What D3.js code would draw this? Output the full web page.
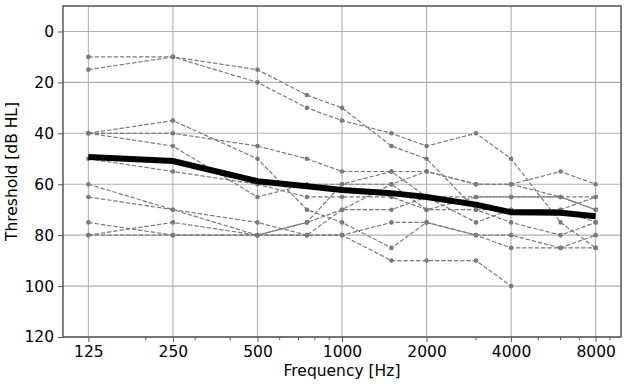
<!DOCTYPE html>
<html>
<head>
<meta charset="utf-8">
<script src="https://cdn.jsdelivr.net/npm/d3@7"></script>
<style>
  html, body { margin: 0; padding: 0; background: #fff; }
  svg { display: block; font-family: "DejaVu Sans", sans-serif; }
</style>
</head>
<body>
<div id="chart"></div>
<script>
// audiogram frequencies (Hz)
const freqs = [125, 250, 500, 750, 1000, 1500, 2000, 3000, 4000, 6000, 8000];
const xTicks = [125, 250, 500, 1000, 2000, 4000, 8000];
const yTicks = [0, 20, 40, 60, 80, 100, 120];

// individual thresholds (dB HL), null = no response
const subj1 = [15, 10, 15, 25, 30, 45, 50, 70, 70, 70, 75];
const subj2 = [10, 10, 20, 30, 35, 40, 45, 40, 50, 75, 85];
const subj3 = [40, 35, 50, 70, 75, 85, 75, 80, 85, 85, 80];
const subj4 = [40, 40, 45, 50, 55, 55, 55, 60, 60, 55, 60];
const subj5 = [40, 45, 65, 60, 60, 60, 70, 65, 65, 65, 70];
const subj6 = [50, 55, 60, 65, 65, 65, 70, 70, 75, 80, 75];
const subj7 = [60, 70, 75, 80, 80, 90, 90, 90, 100, null, null];
const subj8 = [65, 70, 80, 75, 70, 60, 55, 60, 60, 65, 65];
const subj9 = [75, 80, 80, 80, 70, 70, 65, 75, 70, 70, 65];
const subj10 = [80, 75, 80, 75, 60, 55, 65, 65, 65, 65, 70];
const subj11 = [80, 80, 80, 80, 80, 75, 75, 80, 80, 85, 85];
const subjects = [subj1, subj2, subj3, subj4, subj5, subj6, subj7, subj8, subj9, subj10, subj11];

// mean threshold
const meanThr = [49.3, 50.9, 58.8, 60.8, 62.3, 63.5, 65, 68, 71, 71.2, 72.6];

const W = 624, H = 384;
const margin = { top: 6, right: 3, bottom: 47, left: 63 };

const svg = d3.select('#chart').append('svg')
  .attr('width', W)
  .attr('height', H);

const x = d3.scaleLog()
  .base(2)
  .domain([125 / Math.pow(2, 0.3), 8000 * Math.pow(2, 0.3)])
  .range([margin.left, W - margin.right]);

const y = d3.scaleLinear()
  .domain([-10, 120])
  .range([margin.top, H - margin.bottom]);

const plotL = margin.left, plotR = W - margin.right;
const plotT = margin.top, plotB = H - margin.bottom;

// grid
const grid = svg.append('g').attr('stroke', '#b0b0b0').attr('stroke-width', 1.1);
xTicks.forEach(t => {
  grid.append('line')
    .attr('x1', x(t)).attr('x2', x(t))
    .attr('y1', plotT).attr('y2', plotB);
});
yTicks.forEach(t => {
  grid.append('line')
    .attr('x1', plotL).attr('x2', plotR)
    .attr('y1', y(t)).attr('y2', y(t));
});

// subject lines
const line = d3.line()
  .defined(d => d[1] != null)
  .x(d => x(d[0]))
  .y(d => y(d[1]));

const subjG = svg.append('g');
subjects.forEach(s => {
  const pts = freqs.map((f, i) => [f, s[i]]);
  subjG.append('path')
    .datum(pts)
    .attr('d', line)
    .attr('fill', 'none')
    .attr('stroke', '#7a7a7a')
    .attr('stroke-width', 1.2)
    .attr('stroke-dasharray', '4.4,1.9');
  subjG.selectAll(null)
    .data(pts.filter(d => d[1] != null))
    .join('circle')
    .attr('cx', d => x(d[0]))
    .attr('cy', d => y(d[1]))
    .attr('r', 2.3)
    .attr('fill', '#7a7a7a');
});

// mean line
svg.append('path')
  .datum(freqs.map((f, i) => [f, meanThr[i]]))
  .attr('d', line)
  .attr('fill', 'none')
  .attr('stroke', '#000')
  .attr('stroke-width', 6);

// axes
const xAxis = d3.axisBottom(x)
  .tickValues(xTicks)
  .tickFormat(d3.format('d'))
  .tickSize(5)
  .tickPadding(4);

const minorTicks = [200, 300, 400, 600, 700, 800, 900, 3000, 5000, 6000, 7000, 9000];

const gx = svg.append('g')
  .attr('transform', `translate(0,${plotB})`)
  .call(xAxis);

gx.selectAll('.minor')
  .data(minorTicks)
  .join('line')
  .attr('class', 'minor')
  .attr('x1', d => x(d)).attr('x2', d => x(d))
  .attr('y1', 0).attr('y2', 3)
  .attr('stroke', '#555');

const gy = svg.append('g')
  .attr('transform', `translate(${plotL},0)`)
  .call(d3.axisLeft(y).tickValues(yTicks).tickSize(5).tickPadding(4));

[gx, gy].forEach(g => {
  g.select('.domain').remove();
  g.selectAll('.tick line').attr('stroke', '#555');
  g.selectAll('.tick text')
    .attr('fill', '#000')
    .style('font-size', '15.5px')
    .style('font-family', '"DejaVu Sans", sans-serif');
});

// frame
svg.append('rect')
  .attr('x', plotL).attr('y', plotT)
  .attr('width', plotR - plotL).attr('height', plotB - plotT)
  .attr('fill', 'none')
  .attr('stroke', '#555')
  .attr('stroke-width', 1.5);

// labels
svg.append('text')
  .attr('x', (plotL + plotR) / 2)
  .attr('y', H - 8)
  .attr('text-anchor', 'middle')
  .style('font-size', '15.5px')
  .text('Frequency [Hz]');

svg.append('text')
  .attr('transform', `translate(17,${(plotT + plotB) / 2}) rotate(-90)`)
  .attr('text-anchor', 'middle')
  .style('font-size', '15.5px')
  .text('Threshold [dB HL]');
</script>
</body>
</html>
